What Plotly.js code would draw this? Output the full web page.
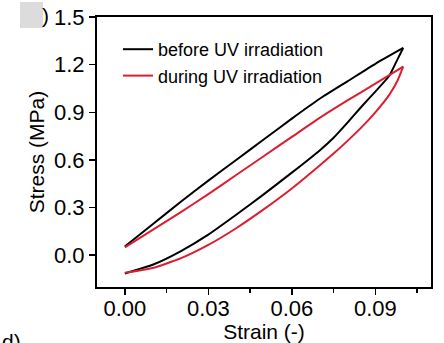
<!DOCTYPE html>
<html>
<head>
<meta charset="utf-8">
<script src="https://cdn.plot.ly/plotly-3.0.1.min.js"></script>
<style>html,body{margin:0;padding:0;background:#fff;}#chart{width:444px;height:343px;}</style>
</head>
<body>
<div id="chart"></div>
<script>
// Loading branch (shared strain values)
const strainLoad = [0, 0.01, 0.02, 0.03, 0.04, 0.05, 0.06, 0.07, 0.08, 0.09, 0.1];
const stressLoadBefore = [0.055, 0.195, 0.335, 0.47, 0.6, 0.73, 0.86, 0.985, 1.095, 1.205, 1.305];
const stressLoadDuring = [0.05, 0.16, 0.27, 0.385, 0.505, 0.625, 0.745, 0.865, 0.975, 1.08, 1.187];
// Unloading branch (strain decreasing)
const strainUnload = [0.1, 0.098, 0.095, 0.09, 0.085, 0.08, 0.075, 0.07, 0.06, 0.05, 0.04, 0.03, 0.02, 0.01, 0];
const stressUnloadBefore = [1.305, 1.235, 1.13, 1.03, 0.935, 0.835, 0.74, 0.66, 0.52, 0.385, 0.255, 0.13, 0.025, -0.06, -0.115];
const stressUnloadDuring = [1.187, 1.1, 1.01, 0.9, 0.805, 0.72, 0.64, 0.565, 0.42, 0.29, 0.17, 0.065, -0.02, -0.08, -0.11];
const seriesNames = ["before UV irradiation", "during UV irradiation"];
const seriesColors = ["#000000", "#dc1e32"];
const xTicks = [0, 0.03, 0.06, 0.09];
const yTicks = [0, 0.3, 0.6, 0.9, 1.2, 1.5];

const font = "Liberation Sans, Arial, Helvetica, sans-serif";
const traces = [
  {x: strainLoad.concat(strainUnload), y: stressLoadBefore.concat(stressUnloadBefore)},
  {x: strainLoad.concat(strainUnload), y: stressLoadDuring.concat(stressUnloadDuring)}
].map((t, i) => ({
  x: t.x, y: t.y, type: "scatter", mode: "lines", name: seriesNames[i],
  line: {color: seriesColors[i], width: 2, shape: "spline", smoothing: 0.5}
}));

const W = 444, H = 343, L = 97, R = 13, T = 17, B = 56;
const pw = W - L - R, ph = H - T - B;
const px = v => (v - L) / pw, py = v => (H - B - v) / ph;

const layout = {
  width: W, height: H,
  margin: {l: L, r: R, t: T, b: B, pad: 0},
  paper_bgcolor: "#fff", plot_bgcolor: "#fff",
  font: {family: font, color: "#000", size: 22},
  showlegend: true,
  legend: {x: px(118), y: py(31), xanchor: "left", yanchor: "top",
    bgcolor: "rgba(0,0,0,0)", font: {size: 18, family: font, color: "#000"},
    tracegroupgap: 0, itemwidth: 30},
  xaxis: {range: [-0.01, 0.11], tickvals: xTicks, tickformat: ".2f",
    ticks: "outside", ticklen: 6, tickwidth: 1.5, tickcolor: "#000",
    ticklabelstandoff: -5,
    minor: {dtick: 0.015, tick0: 0, ticks: "outside", ticklen: 4, tickwidth: 1.5, tickcolor: "#000"},
    showline: true, linecolor: "#000", linewidth: 2, mirror: true,
    showgrid: false, zeroline: false,
    tickfont: {size: 22, family: font, color: "#000"},
    title: {text: "Strain (-)", font: {size: 21, family: font, color: "#000"}, standoff: 4}},
  yaxis: {range: [-0.2, 1.5], tickvals: yTicks, tickformat: ".1f",
    ticks: "outside", ticklen: 6, tickwidth: 1.5, tickcolor: "#000",
    showline: true, linecolor: "#000", linewidth: 2, mirror: true,
    showgrid: false, zeroline: false,
    tickfont: {size: 22, family: font, color: "#000"},
    title: {text: "Stress (MPa)", font: {size: 21, family: font, color: "#000"}, standoff: 4}},
  shapes: [
    {type: "rect", xref: "paper", yref: "paper", x0: px(20), x1: px(43), y0: py(28), y1: py(2),
      fillcolor: "#dcdcdc", line: {width: 0}, layer: "below"}
  ],
  annotations: [
    {text: ")", xref: "paper", yref: "paper", x: px(45), y: py(16), xanchor: "center", yanchor: "middle",
      showarrow: false, font: {size: 21, family: font, color: "#000"}},
    {text: "d)", xref: "paper", yref: "paper", x: px(0), y: py(341), xanchor: "left", yanchor: "middle",
      showarrow: false, font: {size: 21, family: font, color: "#000"}}
  ]
};

Plotly.newPlot("chart", traces, layout, {displayModeBar: false, staticPlot: true});
</script>
</body>
</html>
